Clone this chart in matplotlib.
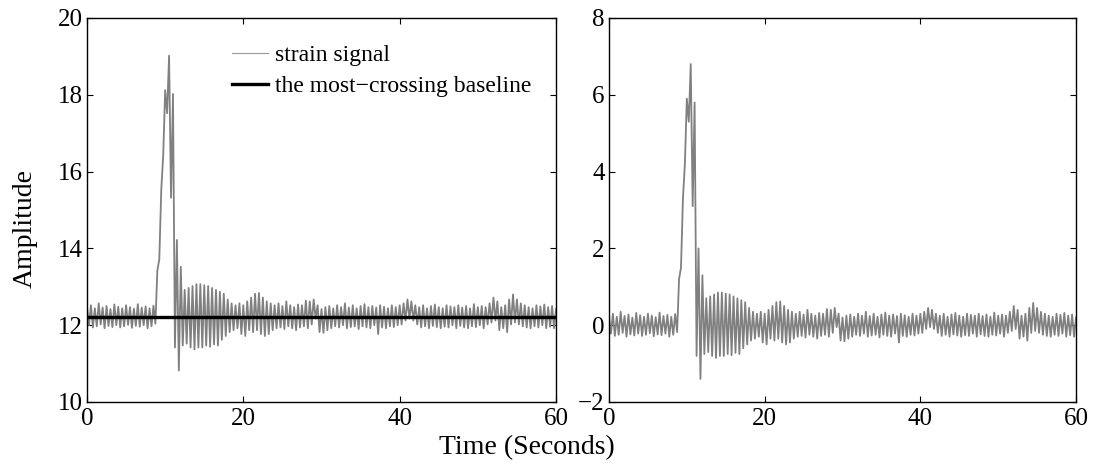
import numpy as np
import matplotlib
matplotlib.use('Agg')
import matplotlib.pyplot as plt

plt.rcParams['font.family'] = ['Liberation Serif', 'DejaVu Serif']

# strain signal, deviation from baseline, every 0.25 s
baseline = 12.22
dev = [
    # 0 - 8.75 s
    0.25, -0.22, 0.30, -0.28, 0.22, -0.25, 0.35, -0.20, 0.24, -0.30,
    0.28, -0.24, 0.20, -0.27, 0.32, -0.22, 0.26, -0.28, 0.22, -0.25,
    0.30, -0.21, 0.25, -0.29, 0.21, -0.24, 0.33, -0.26, 0.24, -0.22,
    0.27, -0.30, 0.22, -0.25, 0.29, -0.18,
    # 9 - 18.75 s (event)
    1.2, 1.5, 3.3, 4.2, 5.9, 5.3, 6.8, 3.1, 5.8, -0.8,
    2.0, -1.4, 1.3, -0.75, 0.7, -0.7, 0.75, -0.8, 0.8, -0.85,
    0.85, -0.8, 0.85, -0.8, 0.82, -0.75, 0.8, -0.78, 0.75, -0.72,
    0.7, -0.75, 0.65, -0.6, 0.6, -0.5, 0.45, -0.4, 0.35, -0.35,
    # 19 - 23.75 s
    0.3, -0.3, 0.35, -0.45, 0.3, -0.5, 0.4, -0.35, 0.5, -0.4,
    0.6, -0.35, 0.62, -0.45, 0.5, -0.5, 0.4, -0.45, 0.35, -0.35,
    # 24 - 28.25 s
    0.3, -0.3, 0.35, -0.28, 0.28, -0.32, 0.4, -0.25, 0.3, -0.3,
    0.25, -0.35, 0.32, -0.28, 0.3, -0.25, 0.42, -0.3,
    # 28.5 - 30.75 s
    0.4, -0.2, 0.45, -0.05, 0.3, -0.4, 0.2, -0.42, 0.25, -0.35,
    # 31 - 40.25 s
    0.28, -0.3, 0.22, -0.25, 0.3, -0.28, 0.25, -0.22, 0.35, -0.3,
    0.24, -0.27, 0.3, -0.25, 0.22, -0.32, 0.28, -0.25, 0.33, -0.28,
    0.25, -0.3, 0.28, -0.22, 0.24, -0.45, 0.3, -0.28, 0.26, -0.3,
    0.22, -0.25, 0.3, -0.27, 0.25, -0.22, 0.3, -0.2,
    # 40.5 - 42.25 s
    0.35, -0.1, 0.45, -0.05, 0.4, -0.1, 0.3, -0.2,
    # 42.5 - 51.25 s
    0.25, -0.28, 0.3, -0.25, 0.22, -0.3, 0.28, -0.24, 0.32, -0.27,
    0.25, -0.3, 0.22, -0.26, 0.3, -0.28, 0.27, -0.22, 0.25, -0.3,
    0.3, -0.24, 0.24, -0.28, 0.28, -0.3, 0.22, -0.25, 0.33, -0.27,
    0.25, -0.22, 0.28, -0.3, 0.25, -0.2,
    # 51.5 - 55.75 s
    0.35, -0.15, 0.5, -0.1, 0.4, -0.35, 0.25, -0.3, 0.3, -0.4,
    0.45, -0.2, 0.58, -0.15, 0.45, -0.2, 0.35, -0.25,
    # 56 - 60 s
    0.3, -0.28, 0.25, -0.3, 0.22, -0.25, 0.3, -0.28, 0.27, -0.22,
    0.32, -0.3, 0.25, -0.26, 0.28, -0.3, 0.2,
]

dev = np.array(dev)
t = np.linspace(0, 60, len(dev))
strain = baseline + dev
detrended = strain - baseline

left_yticks = [10, 12, 14, 16, 18, 20]
right_yticks = [-2, 0, 2, 4, 6, 8]
xticks = [0, 20, 40, 60]

fig = plt.figure(figsize=(11.01, 4.68), dpi=100)
ax1 = fig.add_axes([87/1101, 66/468, 469/1101, 384/468])
ax2 = fig.add_axes([609/1101, 66/468, 467/1101, 384/468])

sig_col = (0.5, 0.5, 0.5)
ax1.plot(t, strain, color=sig_col, lw=1.3, label='strain signal')
ax1.plot([0, 60], [baseline, baseline], color='k', lw=2.4,
         label='the most\u2212crossing baseline')
ax2.plot(t, detrended, color=sig_col, lw=1.3)

ax1.set_ylim(10, 20)
ax1.set_yticks(left_yticks)
ax2.set_ylim(-2, 8)
ax2.set_yticks(right_yticks)

for ax in (ax1, ax2):
    ax.set_xlim(0, 60)
    ax.set_xticks(xticks)
    ax.tick_params(direction='in', top=True, right=True, length=4,
                   width=0.8, labelsize=18)
    ax.tick_params(axis='x', pad=4)
    ax.tick_params(axis='y', pad=3)
    for s in ax.spines.values():
        s.set_linewidth(1.0)

leg = ax1.legend(loc='upper left', bbox_to_anchor=(0.29, 0.955),
                 frameon=False, fontsize=17, handlelength=1.5,
                 handletextpad=0.3, labelspacing=0.4, borderaxespad=0)
leg.get_lines()[0].set_linewidth(0.8)
leg.get_lines()[0].set_color((0.6, 0.6, 0.6))

fig.text(527/1101, 1 - 448/468, 'Time (Seconds)', ha='center', va='center',
         fontsize=20)
fig.text(25/1101, 1 - 228/468, 'Amplitude', ha='center', va='center',
         rotation=90, fontsize=20)

fig.savefig('out.png', dpi=100)
